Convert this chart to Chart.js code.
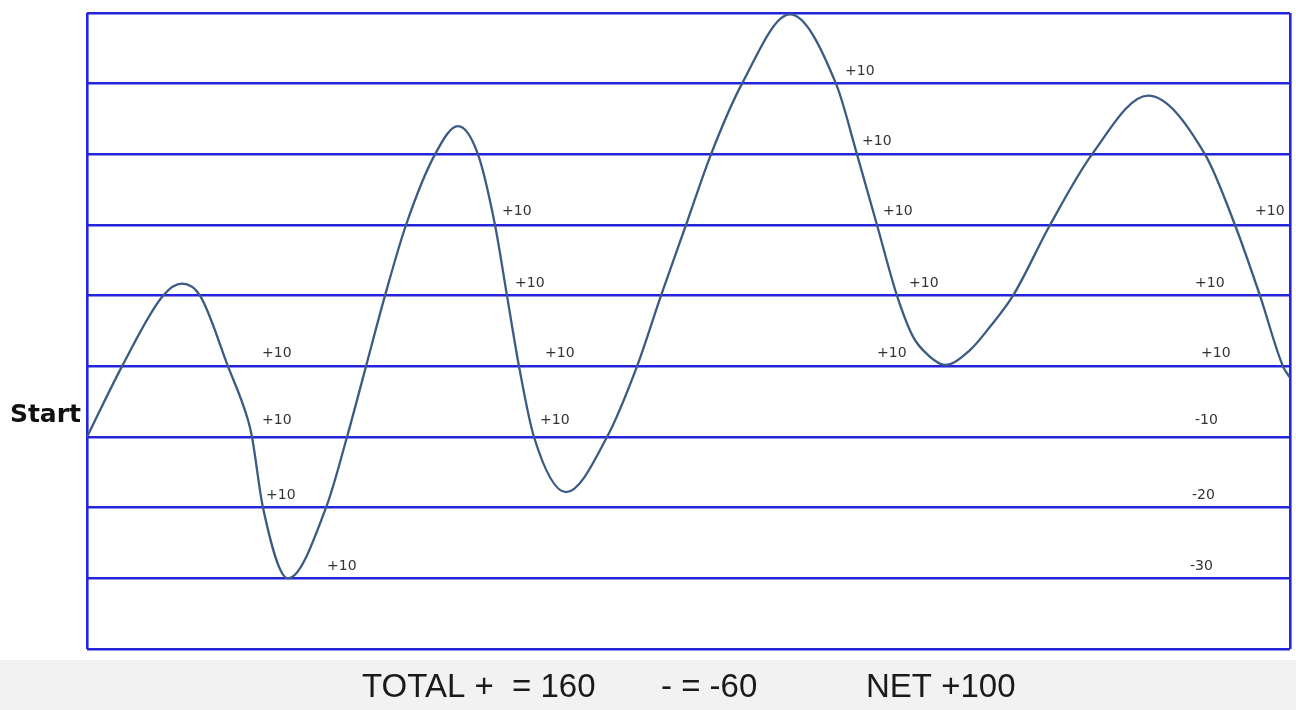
<!DOCTYPE html>
<html>
<head>
<meta charset="utf-8">
<script src="https://cdn.jsdelivr.net/npm/chart.js@4"></script>
<style>
  html, body { margin: 0; padding: 0; background: #fff; }
  #wrap { width: 1296px; height: 710px; }
</style>
</head>
<body>
<div id="wrap"><canvas id="chart" width="1296" height="710"></canvas></div>
<script>
// curve: position along the run, level
const positions = [0, 35, 76, 95, 113, 141, 161, 165, 176, 201, 239, 260, 279, 298, 319, 348, 371,
    391, 408, 420, 432, 447, 479, 520, 550, 574, 599, 624, 655, 703, 749, 770, 790, 810,
    826, 841, 858, 883, 903, 926, 963, 1005, 1061, 1118, 1148, 1173, 1196, 1203];
const levels = [0, 10, 20, 21.7, 20, 10, 2.4, 0, -10, -20, -10, 0, 10, 20, 30, 40, 44,
    40, 30, 20, 10, 0, -7.8, 0, 10, 20, 30, 40, 50, 59.8, 50, 40, 30, 20,
    14.2, 11.6, 10.2, 12.3, 15.6, 20, 30, 40, 48.3, 40, 30, 20, 10, 8.4];

// step labels
const stepText = ['+10', '+10', '+10', '+10', '+10', '+10', '+10', '+10', '+10', '+10',
    '+10', '+10', '+10', '+10', '+10', '+10', '-10', '-20', '-30'];
const stepPos = [175, 175, 179, 240, 415, 428, 458, 453, 758, 775, 796, 822, 790, 1168,
    1108, 1114, 1108, 1105, 1103];
const stepLevel = [11.8, 2.4, -8.2, -18.3, 31.9, 21.8, 11.8, 2.4, 51.8, 41.9, 31.9, 21.8,
    11.8, 31.9, 21.8, 11.8, 2.4, -8.2, -18.3];

const startText = 'Start';
const totals = ['TOTAL +  = 160', '- = -60', 'NET +100'];

const lineBlue = '#2424dc';

const notes = {
    id: 'notes',
    beforeDraw(chart) {
        const ctx = chart.ctx;
        ctx.save();
        ctx.fillStyle = '#f2f2f2';
        ctx.fillRect(0, 660, chart.width, chart.height - 660);
        ctx.restore();
    },
    afterDatasetsDraw(chart) {
        const ctx = chart.ctx;
        const xs = chart.scales.x, ys = chart.scales.y;
        ctx.save();
        ctx.fillStyle = '#333';
        ctx.font = '14px "DejaVu Sans"';
        ctx.textBaseline = 'middle';
        ctx.textAlign = 'left';
        stepText.forEach((t, i) => {
            ctx.fillText(t, xs.getPixelForValue(stepPos[i]), ys.getPixelForValue(stepLevel[i]));
        });

        ctx.fillStyle = '#111';
        ctx.font = 'bold 25px "DejaVu Sans"';
        ctx.textAlign = 'right';
        ctx.fillText(startText, chart.chartArea.left - 6, ys.getPixelForValue(3));

        ctx.font = '33px "Liberation Sans"';
        ctx.textAlign = 'left';
        ctx.fillStyle = '#1a1a1a';
        const spots = [362, 661, 866];
        totals.forEach((t, i) => ctx.fillText(t, spots[i], 688));
        ctx.restore();
    }
};

new Chart(document.getElementById('chart'), {
    type: 'line',
    data: {
        datasets: [{
            data: positions.map((p, i) => ({ x: p, y: levels[i] })),
            borderColor: '#3b5b82',
            borderWidth: 2.3,
            pointRadius: 0,
            fill: false,
            cubicInterpolationMode: 'monotone'
        }]
    },
    options: {
        responsive: false,
        animation: false,
        layout: { padding: { left: 87, top: 13, right: 6, bottom: 61 } },
        plugins: { legend: { display: false }, tooltip: { enabled: false } },
        scales: {
            x: {
                type: 'linear',
                min: 0,
                max: 1203,
                afterBuildTicks: axis => { axis.ticks = [{ value: axis.min }, { value: axis.max }]; },
                ticks: { display: false },
                grid: { color: lineBlue, lineWidth: 2.6, drawTicks: false },
                border: { display: false }
            },
            y: {
                min: -30,
                max: 60,
                ticks: { display: false, stepSize: 10 },
                grid: { color: lineBlue, lineWidth: 2.6, drawTicks: false },
                border: { display: false }
            }
        }
    },
    plugins: [notes]
});
</script>
</body>
</html>
